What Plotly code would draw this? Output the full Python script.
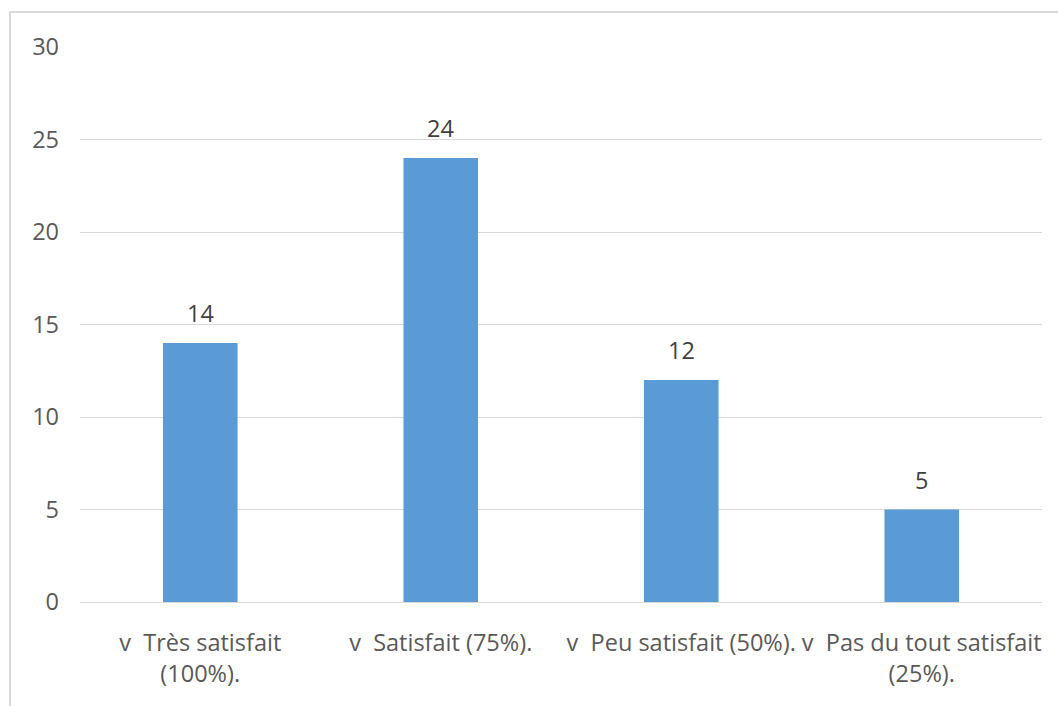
import plotly.graph_objects as go

categories = ["v  Très satisfait<br>(100%).", "v  Satisfait (75%).", "v  Peu satisfait (50%).", "v  Pas du tout satisfait<br>(25%)."]
values = [14, 24, 12, 5]
y_ticks = [0, 5, 10, 15, 20, 25, 30]

W, H = 1058, 706
ml, mr, mt, mb = 80, 16, 47, 104
pw, ph = W - ml - mr, H - mt - mb

FS = 23.5
font = "Open Sans, Liberation Sans, sans-serif"

fig = go.Figure(go.Bar(
    x=categories, y=values,
    marker=dict(color="#5B9BD5", line=dict(width=0)),
    hoverinfo="x+y",
))

annotations = [dict(x=c, y=v, xref="x", yref="y", text=str(v), showarrow=False,
                    yanchor="bottom", yshift=12,
                    font=dict(size=FS, color="#404040", family=font))
               for c, v in zip(categories, values)]

fig.update_layout(
    width=W, height=H,
    margin=dict(l=ml, r=mr, t=mt, b=mb),
    paper_bgcolor="white", plot_bgcolor="white",
    font=dict(family=font, size=FS, color="#595959"),
    bargap=0.69,
    showlegend=False,
    xaxis=dict(showgrid=False, showline=True, linecolor="#d9d9d9", linewidth=1,
               ticks="", ticklabelstandoff=20, tickfont=dict(size=FS, color="#595959")),
    yaxis=dict(range=[0, 30], tickvals=y_ticks, showgrid=True, gridcolor="#d9d9d9",
               gridwidth=1, zeroline=False, showline=False, ticks="",
               ticklabelstandoff=20, tickfont=dict(size=FS, color="#595959")),
    annotations=annotations,
    shapes=[dict(type="rect", xref="paper", yref="paper",
                 x0=(10 - ml) / pw, x1=(W + 5 - ml) / pw,
                 y0=(H - mb - (H + 5)) / ph, y1=(H - mb - 12) / ph,
                 line=dict(color="#d9d9d9", width=2), fillcolor="rgba(0,0,0,0)", layer="below")],
)

fig.write_html("out.html")
